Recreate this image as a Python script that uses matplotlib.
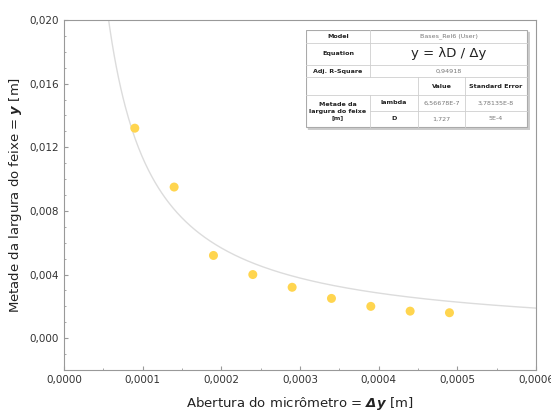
import matplotlib
matplotlib.use("Agg")
import matplotlib.pyplot as plt
import numpy as np
from matplotlib.ticker import FuncFormatter, MultipleLocator

plt.rcParams['mathtext.fontset'] = 'custom'
plt.rcParams['mathtext.bf'] = 'DejaVu Sans:bold:italic'
plt.rcParams['mathtext.rm'] = 'DejaVu Sans'

# measured data
abertura = [0.00009, 0.00014, 0.00019, 0.00024, 0.00029, 0.00034, 0.00039, 0.00044, 0.00049]
meia_largura = [0.0132, 0.0095, 0.0052, 0.0040, 0.0032, 0.0025, 0.0020, 0.0017, 0.0016]

# fit result
lam = 6.56678e-7
D = 1.727

x_ticks = [0, 0.0001, 0.0002, 0.0003, 0.0004, 0.0005, 0.0006]
y_ticks = [0.000, 0.004, 0.008, 0.012, 0.016, 0.020]

fig = plt.figure(figsize=(5.51, 4.15), dpi=100)
ax = fig.add_axes([64/551, 1-370/415, 472/551, 350/415])

xfit = np.linspace(0.00004, 0.0006, 400)
ax.plot(xfit, lam*D/xfit, color='#dcdcdc', lw=1.0, zorder=1)
ax.scatter(abertura, meia_largura, s=42, color='#ffd54f', edgecolors='none', zorder=3)

ax.set_xlim(0, 0.0006)
ax.set_ylim(-0.002, 0.020)
ax.set_xticks(x_ticks)
ax.set_yticks(y_ticks)
ax.xaxis.set_minor_locator(MultipleLocator(0.00005))
ax.yaxis.set_minor_locator(MultipleLocator(0.001))
ax.xaxis.set_major_formatter(FuncFormatter(lambda v, p: '{:.4f}'.format(v).replace('.', ',')))
ax.yaxis.set_major_formatter(FuncFormatter(lambda v, p: '{:.3f}'.format(v).replace('.', ',')))
ax.tick_params(which='both', direction='in', color='#999999', labelcolor='#333333', labelsize=7.5)
ax.tick_params(which='major', length=3)
ax.tick_params(which='minor', length=1.5)
for s in ax.spines.values():
    s.set_color('#999999')
    s.set_linewidth(0.8)

ax.set_xlabel(r'Abertura do micrômetro = $\mathbf{\Delta y}$ [m]', fontsize=9.5, color='#222222')
ax.set_ylabel(r'Metade da largura do feixe = $\mathbf{y}$ [m]', fontsize=9.5, color='#222222')
ax.xaxis.set_label_coords(0.5, -0.072)
ax.yaxis.set_label_coords(-0.085, 0.5)

# fit table drawn in pixel coordinates
x0, x1, y0, y1 = 306, 527, 30, 127
tax = fig.add_axes([x0/551, 1-(y1+3)/415, (x1-x0+3)/551, (y1-y0+3)/415])
tax.set_xlim(x0, x1+3)
tax.set_ylim(y1+3, y0)
tax.axis('off')
tax.add_patch(plt.Rectangle((x0+2, y0+2), x1-x0, y1-y0, color='#cccccc', zorder=0))
tax.add_patch(plt.Rectangle((x0, y0), x1-x0, y1-y0, facecolor='white', edgecolor='#aaaaaa', lw=0.8, zorder=1))

c1, c2, c3 = 370, 418, 465
rows = [30, 43, 65, 77, 95, 111, 127]
lc = '#cfcfcf'
for r in rows[1:-1]:
    xa = x0 if r != rows[5] else c1
    tax.plot([xa, x1], [r, r], color=lc, lw=0.6, zorder=2)
tax.plot([c1, c1], [rows[0], rows[3]], color=lc, lw=0.6, zorder=2)
tax.plot([c1, c1], [rows[4], rows[6]], color=lc, lw=0.6, zorder=2)
tax.plot([c2, c2], [rows[3], rows[6]], color=lc, lw=0.6, zorder=2)
tax.plot([c3, c3], [rows[3], rows[6]], color=lc, lw=0.6, zorder=2)

fs = 4.6
def cell(x, y, s, bold=False, color='#222222', size=fs):
    tax.text(x, y, s, ha='center', va='center', fontsize=size, color=color,
             fontweight='bold' if bold else 'normal', zorder=3, linespacing=1.3)

mid = lambda a, b: (a + b) / 2
cell(mid(x0, c1), mid(rows[0], rows[1]), 'Model', bold=True)
cell(mid(c1, x1), mid(rows[0], rows[1]), 'Bases_Rel6 (User)', color='#777777')
cell(mid(x0, c1), mid(rows[1], rows[2]), 'Equation', bold=True)
cell(mid(c1, x1), mid(rows[1], rows[2]), 'y = λD / Δy', size=9.5)
cell(mid(x0, c1), mid(rows[2], rows[3]), 'Adj. R-Square', bold=True)
cell(mid(c1, x1), mid(rows[2], rows[3]), '0,94918', color='#777777')
cell(mid(c2, c3), mid(rows[3], rows[4]), 'Value', bold=True)
cell(mid(c3, x1), mid(rows[3], rows[4]), 'Standard Error', bold=True)
cell(mid(x0, c1), mid(rows[4], rows[6]), 'Metade da\nlargura do feixe\n[m]', bold=True)
cell(mid(c1, c2), mid(rows[4], rows[5]), 'lambda', bold=True)
cell(mid(c2, c3), mid(rows[4], rows[5]), '6,56678E-7', color='#777777')
cell(mid(c3, x1), mid(rows[4], rows[5]), '3,78135E-8', color='#777777')
cell(mid(c1, c2), mid(rows[5], rows[6]), 'D', bold=True)
cell(mid(c2, c3), mid(rows[5], rows[6]), '1,727', color='#777777')
cell(mid(c3, x1), mid(rows[5], rows[6]), '5E-4', color='#777777')

fig.savefig('out.png', dpi=100)
